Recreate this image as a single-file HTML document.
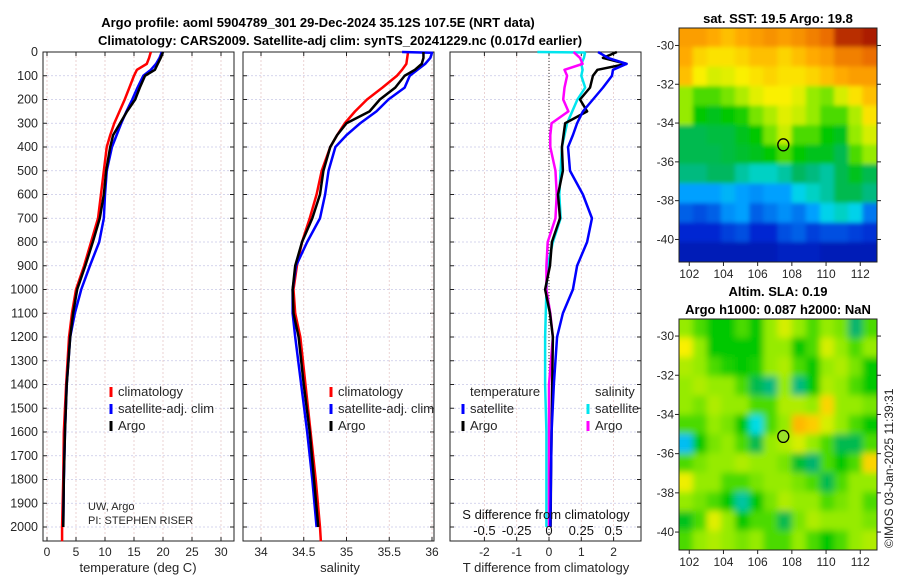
<!DOCTYPE html>
<html><head><meta charset="utf-8">
<style>
body{margin:0;background:#fff;}
svg{display:block;font-family:"Liberation Sans","DejaVu Sans",sans-serif;}
</style></head>
<body>
<svg id="fig" width="900" height="580" viewBox="0 0 900 580">
<defs>
<filter id="blurS" x="-5%" y="-5%" width="110%" height="110%"><feGaussianBlur stdDeviation="2"/></filter>
<filter id="blurL" x="-5%" y="-5%" width="110%" height="110%"><feGaussianBlur stdDeviation="3.5"/></filter>
</defs>
<text x="318" y="27" text-anchor="middle" font-size="13" font-weight="bold">Argo profile: aoml 5904789_301 29-Dec-2024 35.12S 107.5E (NRT data)</text>
<text x="340" y="45" text-anchor="middle" font-size="13" font-weight="bold">Climatology: CARS2009. Satellite-adj clim: synTS_20241229.nc (0.017d earlier)</text>
<text x="778" y="23" text-anchor="middle" font-size="13" font-weight="bold">sat. SST: 19.5 Argo: 19.8</text>
<text x="778" y="296" text-anchor="middle" font-size="13" font-weight="bold">Altim. SLA: 0.19</text>
<text x="778" y="314" text-anchor="middle" font-size="13" font-weight="bold">Argo h1000: 0.087 h2000: NaN</text>
<text transform="translate(893,548) rotate(-90)" font-size="12" fill="#222">©IMOS 03-Jan-2025 11:39:31</text>
<g id="g"></g>
</svg>
<script>
// depth levels (m)
const depths = [0,25,50,75,100,150,200,250,300,350,400,500,600,700,800,900,1000,1100,1200,1400,1600,1800,2000];
// temperature (deg C)
const tArgo = [20.0,19.6,19.1,18.6,16.9,16.0,15.2,13.8,12.6,11.4,10.9,10.2,9.8,9.1,7.9,6.6,5.2,4.5,4.0,3.4,3.1,2.9,2.8];
const tClim = [17.9,17.6,17.2,15.5,15.0,14.2,13.4,12.5,11.6,10.9,10.3,9.8,9.3,8.8,7.6,6.4,5.0,4.3,3.8,3.3,2.9,2.8,2.6];
const tSat  = [19.8,19.4,18.8,17.9,16.6,15.6,14.7,13.7,12.8,12.0,11.2,10.3,10.0,9.8,9.0,7.4,5.9,4.8,4.0,3.4,3.1,2.9,2.8];
// salinity
const sArgo = [35.9,35.9,35.88,35.8,35.68,35.57,35.39,35.27,35.0,34.89,34.81,34.73,34.69,34.6,34.48,34.4,34.37,34.38,34.44,34.5,34.57,34.62,34.67];
const sClim = [35.72,35.71,35.7,35.65,35.59,35.42,35.24,35.1,34.98,34.89,34.81,34.71,34.65,34.57,34.48,34.42,34.38,34.4,34.46,34.52,34.58,34.64,34.69];
const sSat  = [36.0,35.98,35.92,35.83,35.74,35.68,35.49,35.35,35.16,35.0,34.87,34.79,34.75,34.69,34.54,34.41,34.37,34.37,34.4,34.47,34.54,34.6,34.65];
// differences from climatology
const dTArgo = [2.1,1.67,2.4,1.5,1.36,1.27,0.96,1.18,0.5,0.45,0.4,0.43,0.28,0.34,0.09,0.03,-0.12,0.03,0.12,0.1,0.08,0.06,0.05];
const dTSat  = [1.52,1.83,2.4,1.98,1.95,1.67,1.36,1.05,0.87,0.74,0.59,0.65,1.05,1.33,1.18,0.87,0.74,0.43,0.25,0.15,0.08,0.06,0.04];
const dSArgo = [0.19,0.24,0.26,0.12,0.14,0.12,0.11,0.15,0.02,0.01,0.01,0.05,0.06,0.05,-0.01,-0.02,-0.02,0.01,0.03,0.0,0.0,0.0,0.0];
const dSSat  = [0.28,0.27,0.25,0.26,0.25,0.28,0.22,0.18,0.14,0.12,0.1,0.09,0.08,0.09,0.03,-0.01,-0.02,-0.025,-0.03,-0.03,-0.02,-0.02,-0.02];
const depthTicks = [0,100,200,300,400,500,600,700,800,900,1000,1100,1200,1300,1400,1500,1600,1700,1800,1900,2000];
const tTicks = [0,5,10,15,20,25,30];
const sTicks = [34,34.5,35,35.5,36];
const dTTicks = [-2,-1,0,1,2];
const dSTickLabels = ["-0.5","-0.25","0","0.25","0.5"];
const lonTicks = [102,104,106,108,110,112];
const latTicks = [-30,-32,-34,-36,-38,-40];
// SST map grid (colour fraction), rows north->south, 1 deg each
const sstGrid = [
[0.8,0.8,0.78,0.75,0.78,0.8,0.82,0.8,0.82,0.85,0.88,0.95,0.95,0.97],
[0.78,0.72,0.7,0.7,0.72,0.75,0.75,0.72,0.75,0.78,0.8,0.85,0.85,0.88],
[0.75,0.68,0.65,0.66,0.68,0.7,0.72,0.7,0.7,0.72,0.75,0.78,0.8,0.8],
[0.6,0.55,0.55,0.58,0.62,0.66,0.68,0.68,0.66,0.6,0.58,0.65,0.7,0.75],
[0.6,0.5,0.48,0.5,0.52,0.58,0.62,0.66,0.64,0.6,0.55,0.55,0.62,0.7],
[0.45,0.45,0.46,0.46,0.48,0.5,0.58,0.64,0.55,0.55,0.5,0.48,0.6,0.65],
[0.45,0.45,0.45,0.46,0.47,0.48,0.5,0.55,0.5,0.48,0.48,0.45,0.55,0.6],
[0.42,0.42,0.44,0.44,0.4,0.38,0.38,0.4,0.44,0.42,0.4,0.45,0.48,0.45],
[0.3,0.3,0.3,0.32,0.3,0.28,0.3,0.3,0.35,0.38,0.4,0.45,0.45,0.42],
[0.22,0.2,0.22,0.28,0.3,0.22,0.25,0.28,0.25,0.3,0.35,0.38,0.35,0.25],
[0.15,0.15,0.15,0.18,0.2,0.15,0.15,0.2,0.22,0.18,0.2,0.2,0.18,0.16],
[0.1,0.1,0.1,0.1,0.1,0.1,0.1,0.12,0.12,0.12,0.1,0.1,0.1,0.1]];
const slaGrid = [
[0.6,0.55,0.5,0.5,0.55,0.5,0.6,0.65,0.6,0.55,0.6,0.58,0.43,0.55],
[0.68,0.6,0.5,0.5,0.5,0.5,0.6,0.6,0.5,0.55,0.65,0.6,0.55,0.6],
[0.62,0.6,0.55,0.52,0.5,0.52,0.6,0.62,0.55,0.5,0.6,0.62,0.58,0.5],
[0.6,0.62,0.6,0.6,0.55,0.45,0.42,0.6,0.42,0.5,0.62,0.6,0.55,0.5],
[0.6,0.58,0.62,0.6,0.6,0.55,0.55,0.62,0.62,0.6,0.72,0.6,0.6,0.58],
[0.55,0.55,0.6,0.58,0.5,0.36,0.55,0.6,0.76,0.73,0.65,0.6,0.55,0.5],
[0.33,0.5,0.58,0.6,0.55,0.45,0.6,0.62,0.65,0.6,0.55,0.45,0.45,0.55],
[0.55,0.58,0.6,0.6,0.62,0.6,0.6,0.58,0.47,0.43,0.55,0.5,0.55,0.72],
[0.67,0.6,0.6,0.55,0.55,0.58,0.6,0.6,0.58,0.55,0.45,0.55,0.6,0.6],
[0.6,0.58,0.55,0.5,0.4,0.5,0.58,0.62,0.6,0.6,0.55,0.58,0.6,0.55],
[0.48,0.55,0.66,0.6,0.5,0.55,0.55,0.45,0.58,0.62,0.6,0.6,0.6,0.58],
[0.55,0.6,0.62,0.6,0.58,0.6,0.55,0.55,0.6,0.55,0.5,0.55,0.6,0.62]];
const argoLon = 107.5, argoLat = -35.12;

const NS='http://www.w3.org/2000/svg';
const G=document.getElementById('g');
function mk(tag,attrs,parent){const e=document.createElementNS(NS,tag);for(const k in attrs)e.setAttribute(k,attrs[k]);(parent||G).appendChild(e);return e;}
function txt(x,y,s,attrs,parent){const e=mk('text',Object.assign({x:x,y:y,'font-size':12,fill:'#262626'},attrs||{}),parent);e.textContent=s;return e;}

const PT=52, PB=541;
const yD = d => PT + d*0.2375;
function panel(name){
  const g=mk('g',{});
  
  
  return g;
}
function frame(g,x0,x1,xs,xfun){
  depthTicks.forEach(d=>{mk('line',{x1:x0,x2:x1,y1:yD(d),y2:yD(d),stroke:'#c8c8e6','stroke-width':0.8,'stroke-dasharray':'2,2'},g);
    mk('line',{x1:x0,x2:x0+4,y1:yD(d),y2:yD(d),stroke:'#222'},g);mk('line',{x1:x1-4,x2:x1,y1:yD(d),y2:yD(d),stroke:'#222'},g);});
  xs.forEach(v=>{const x=xfun(v);mk('line',{x1:x,x2:x,y1:PT,y2:PB,stroke:'#e6c8c8','stroke-width':0.8,'stroke-dasharray':'2,2'},g);
    mk('line',{x1:x,x2:x,y1:PB,y2:PB-4,stroke:'#222'},g);mk('line',{x1:x,x2:x,y1:PT,y2:PT+4,stroke:'#222'},g);});
  mk('rect',{x:x0,y:PT,width:x1-x0,height:PB-PT,fill:'none',stroke:'#222','stroke-width':1},g);
}
function line(g,xs,ys,xfun,color,name,w){
  const p=mk('polyline',{points:xs.map((v,i)=>xfun(v)+','+yD(ys[i])).join(' '),fill:'none',stroke:color,'stroke-width':w||2.5,'stroke-linejoin':'round'},g);
  
  
}
function legendMark(g,x,y,color){mk('line',{x1:x,x2:x,y1:y-9,y2:y+1,stroke:color,'stroke-width':3},g);}

// Panel 1 temperature
const xT = v => 47 + v*5.8;
const g1=panel('temperature-panel');
frame(g1,43,234,tTicks,xT);
depthTicks.forEach(d=>txt(38,yD(d)+4,String(d),{'text-anchor':'end','font-size':12.5},g1));
tTicks.forEach(v=>txt(xT(v),556,String(v),{'text-anchor':'middle'},g1));
txt(138,572,'temperature (deg C)',{'text-anchor':'middle','font-size':13},g1);
line(g1,tClim.concat([2.6]),depths.concat([2060]),xT,'#ff0000','temp-climatology-line');
line(g1,tSat,depths,xT,'#0000ff','temp-satellite-line');
line(g1,tArgo,depths,xT,'#000000','temp-argo-line');
legendMark(g1,111,396,'#ff0000');txt(118,396,'climatology',{'font-size':13},g1);
legendMark(g1,111,413,'#0000ff');txt(118,413,'satellite-adj. clim',{'font-size':13},g1);
legendMark(g1,111,430,'#000');txt(118,430,'Argo',{'font-size':13},g1);
txt(88,510,'UW, Argo',{'font-size':11},g1);
txt(88,524,'PI: STEPHEN RISER',{'font-size':11},g1);

// Panel 2 salinity
const xS = v => 261 + (v-34)*85.5;
const g2=panel('salinity-panel');
frame(g2,243,434,sTicks,xS);
sTicks.forEach(v=>txt(xS(v),556,String(v),{'text-anchor':'middle'},g2));
txt(340,572,'salinity',{'text-anchor':'middle','font-size':13},g2);
line(g2,sClim.concat([34.7]),depths.concat([2060]),xS,'#ff0000','sal-climatology-line');
line(g2,[35.65].concat(sSat),[0,3].concat(depths.slice(1)),xS,'#0000ff','sal-satellite-line');
line(g2,sArgo,depths,xS,'#000000','sal-argo-line');
legendMark(g2,331,396,'#ff0000');txt(338,396,'climatology',{'font-size':13},g2);
legendMark(g2,331,413,'#0000ff');txt(338,413,'satellite-adj. clim',{'font-size':13},g2);
legendMark(g2,331,430,'#000');txt(338,430,'Argo',{'font-size':13},g2);

// Panel 3 differences
const xDT = v => 549 + v*32.3;
const xDS = v => 549 + v*129.2;
const g3=panel('difference-panel');
frame(g3,450,641,dTTicks,xDT);
mk('line',{x1:549,x2:549,y1:PT,y2:PB,stroke:'#333','stroke-dasharray':'1,2'},g3);
dTTicks.forEach(v=>txt(xDT(v),556,String(v),{'text-anchor':'middle'},g3));
txt(546,572,'T difference from climatology',{'text-anchor':'middle','font-size':13},g3);
line(g3,dSSat,depths,xDS,'#00e5ee','sdiff-satellite-line');
line(g3,[-0.09,0.28],[0,2],xDS,'#00e5ee','sdiff-satellite-surface');
line(g3,dSArgo,depths,xDS,'#ff00ff','sdiff-argo-line');
line(g3,dTArgo,depths,xDT,'#000000','tdiff-argo-line');
line(g3,dTSat,depths,xDT,'#0000ff','tdiff-satellite-line');
txt(546,519,'S difference from climatology',{'text-anchor':'middle','font-size':13,fill:'#111'},g3);
dSTickLabels.forEach((s,i)=>txt(xDT(dTTicks[i]),535,s,{'text-anchor':'middle','font-size':13,fill:'#111'},g3));
txt(470,396,'temperature',{'font-size':13},g3);
txt(595,396,'salinity',{'font-size':13},g3);
legendMark(g3,463,413,'#0000ff');txt(470,413,'satellite',{'font-size':13},g3);
legendMark(g3,463,430,'#000');txt(470,430,'Argo',{'font-size':13},g3);
legendMark(g3,588,413,'#00e5ee');txt(595,413,'satellite',{'font-size':13},g3);
legendMark(g3,588,430,'#ff00ff');txt(595,430,'Argo',{'font-size':13},g3);

// colour map
const cStops=[[0,0,0,128],[0.15,0,40,210],[0.3,0,160,255],[0.36,0,220,230],[0.43,0,180,110],[0.5,0,200,0],[0.6,150,235,0],[0.68,250,240,0],[0.78,255,170,0],[0.88,235,110,0],[1,150,0,0]];
function cmap(v){v=Math.max(0,Math.min(1,v));
  for(let i=1;i<cStops.length;i++){if(v<=cStops[i][0]){const a=cStops[i-1],b=cStops[i],t=(v-a[0])/(b[0]-a[0]);
    return 'rgb('+[1,2,3].map(k=>Math.round(a[k]+(b[k]-a[k])*t)).join(',')+')';}}
  return 'rgb(150,0,0)';}
function map(grid,top,bottom,latTop,pxPerLat,name,filt){
  const x0=679,x1=877,lonMin=101.4,pxPerLon=17.1;
  const xL=v=>x0+(v-lonMin)*pxPerLon, yL=v=>top+(latTop-v)*pxPerLat;
  const g=mk('g',{});
  
  
  const clipId=name+'-clip';
  const cp=mk('clipPath',{id:clipId},g);mk('rect',{x:x0,y:top,width:x1-x0,height:bottom-top},cp);
  const og=mk('g',{'clip-path':'url(#'+clipId+')'},g);
  const ig=mk('g',{filter:'url(#'+filt+')'},og);
  const rows=grid.length, cols=grid[0].length, cw=(x1-x0)/cols, ch=(bottom-top)/rows;
  grid.forEach((row,r)=>row.forEach((v,c)=>{
    const ex=(c===0?-10:0), ey=(r===0?-10:0), ew=(c===0||c===cols-1?10:0), eh=(r===0||r===rows-1?10:0);
    const cell=mk('rect',{x:x0+c*cw-0.5+ex,y:top+r*ch-0.5+ey,width:cw+1+ew,height:ch+1+eh,fill:cmap(v)},ig);
    
    
  }));
  mk('rect',{x:x0,y:top,width:x1-x0,height:bottom-top,fill:'none',stroke:'#222'},g);
  lonTicks.forEach(v=>{mk('line',{x1:xL(v),x2:xL(v),y1:bottom,y2:bottom+4,stroke:'#222'},g);txt(xL(v),bottom+16,String(v),{'text-anchor':'middle'},g);});
  latTicks.forEach(v=>{mk('line',{x1:x0,x2:x0-4,y1:yL(v),y2:yL(v),stroke:'#222'},g);mk('line',{x1:x1,x2:x1+4,y1:yL(v),y2:yL(v),stroke:'#222'},g);txt(x0-5,yL(v)+4,String(v),{'text-anchor':'end'},g);});
  const m=mk('ellipse',{cx:xL(argoLon),cy:yL(argoLat),rx:5.5,ry:6,fill:'none',stroke:'#000','stroke-width':1.3},g);
  
  
  return m;
}
map(sstGrid,28,262,-29.1,19.4,'sst-map','blurS');
const m2=map(slaGrid,319,550,-29.13,19.6,'sla-map','blurL');
m2.setAttribute('fill','#9be22a');
</script>
</body></html>
